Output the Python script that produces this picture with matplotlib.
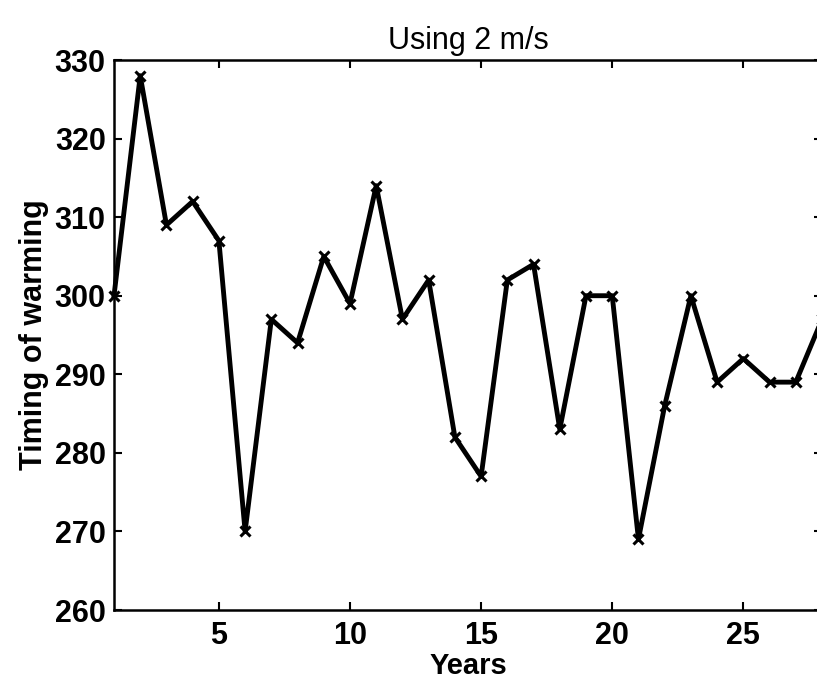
import matplotlib.pyplot as plt
import numpy as np

# Data
years = np.arange(1, 29)
timing = [300, 328, 309, 312, 307, 270, 297, 294, 305, 299,
          314, 297, 302, 282, 277, 302, 304, 283, 300, 300,
          269, 286, 300, 289, 292, 289, 289, 297]
xticks = [5, 10, 15, 20, 25]
yticks = [260, 270, 280, 290, 300, 310, 320, 330]

plt.rcParams['font.family'] = ['Liberation Sans', 'DejaVu Sans']

fig = plt.figure(figsize=(8.17, 6.81), dpi=100)
# the right edge of the axes sits just past the edge of the picture, as in the scan
ax = fig.add_axes([114 / 817, 71 / 681, 708 / 817, 550 / 681])

ax.plot(years, timing, color='black', linewidth=3.5, marker='x',
        markersize=7, markeredgewidth=2.2, clip_on=False)

ax.set_xlim(1, 28)
ax.set_ylim(260, 330)
ax.set_xticks(xticks)
ax.set_yticks(yticks)
ax.tick_params(direction='in', length=6, width=1.5, top=True, right=True,
               labelsize=22, pad=6)
ax.tick_params(axis='x', pad=8)
for lab in ax.get_xticklabels() + ax.get_yticklabels():
    lab.set_fontweight('bold')
for s in ax.spines.values():
    s.set_linewidth(1.8)

ax.set_title('Using 2 m/s', fontsize=22, pad=8)
ax.set_xlabel('Years', fontsize=21, fontweight='bold', labelpad=1)
ax.set_ylabel('Timing of warming', fontsize=22, fontweight='bold', labelpad=4)

fig.savefig('out.png', dpi=100)
